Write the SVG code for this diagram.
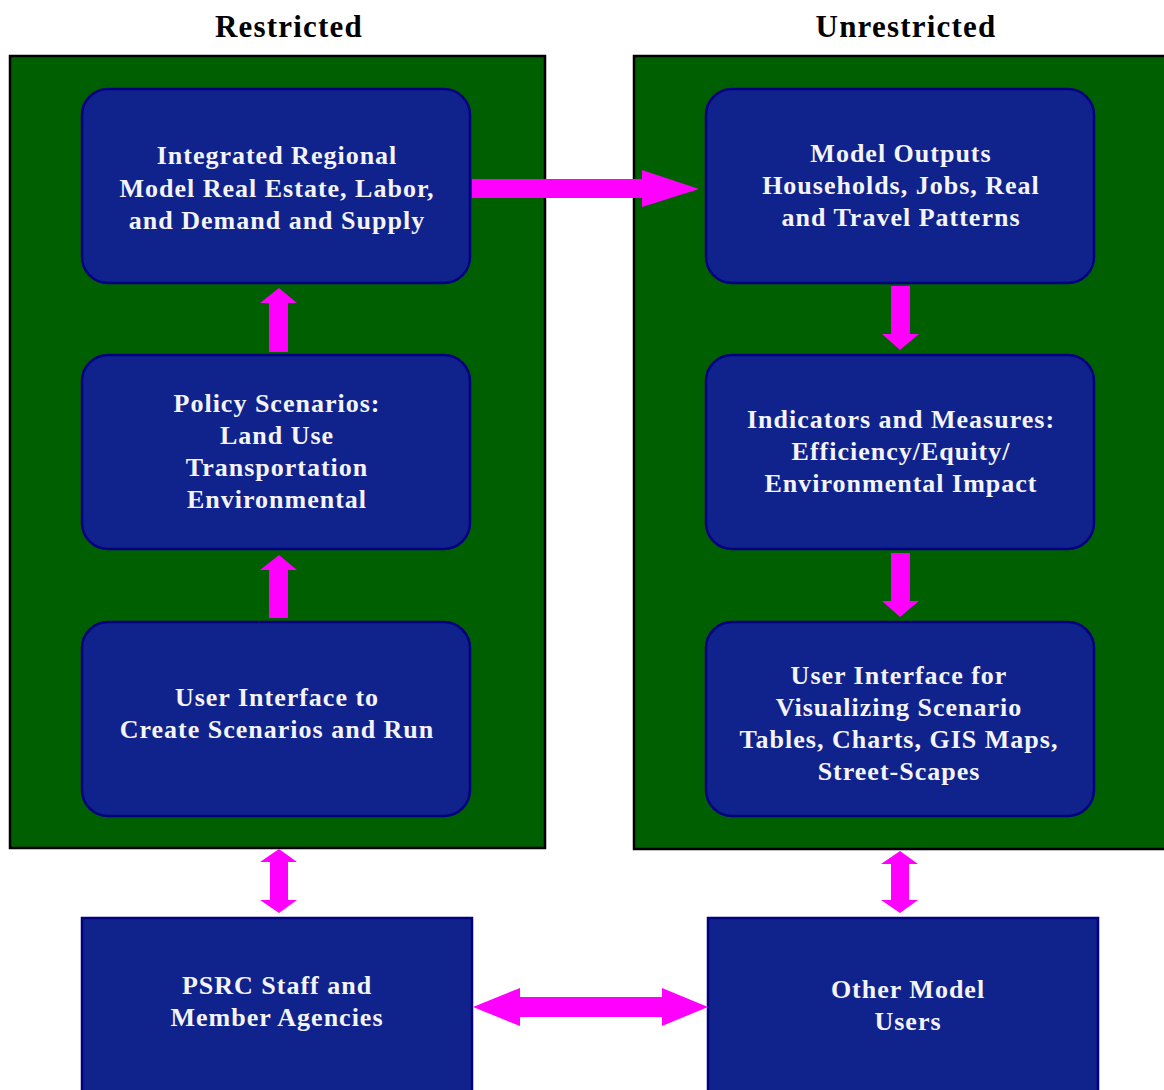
<svg xmlns="http://www.w3.org/2000/svg" width="1164" height="1090" viewBox="0 0 1164 1090">
  <style>
    .panel { fill: #005f00; stroke: #000000; stroke-width: 2.5; }
    .node { fill: #10238c; stroke: #000080; stroke-width: 2.5; }
    .label { font-family: "Liberation Serif", "DejaVu Serif", serif; font-weight: bold; font-size: 26px; letter-spacing: 1px; fill: #f4f4f8; text-anchor: middle; }
    .heading { font-family: "Liberation Serif", "DejaVu Serif", serif; font-weight: bold; font-size: 31px; letter-spacing: 1.2px; fill: #000000; text-anchor: middle; }
    .arrow { fill: #ff00ff; }
  </style>

  <rect width="1164" height="1090" fill="#ffffff"/>

  <!-- column headings -->
  <text class="heading" x="289" y="37">Restricted</text>
  <text class="heading" x="906" y="37">Unrestricted</text>

  <!-- restricted / unrestricted panels -->
  <g id="panel-restricted"><rect class="panel" x="10" y="56" width="535" height="792"/></g>
  <g id="panel-unrestricted"><rect class="panel" x="634" y="56" width="540" height="793"/></g>

  <g id="integrated-model">
    <rect class="node" x="82" y="89" width="388" height="194" rx="26"/>
    <text class="label" x="277" y="164">Integrated Regional</text>
    <text class="label" x="277" y="197">Model Real Estate, Labor,</text>
    <text class="label" x="277" y="229">and Demand and Supply</text>
  </g>

  <g id="policy-scenarios">
    <rect class="node" x="82" y="355" width="388" height="194" rx="26"/>
    <text class="label" x="277" y="412">Policy Scenarios:</text>
    <text class="label" x="277" y="444">Land Use</text>
    <text class="label" x="277" y="476">Transportation</text>
    <text class="label" x="277" y="508">Environmental</text>
  </g>

  <g id="ui-create">
    <rect class="node" x="82" y="622" width="388" height="194" rx="26"/>
    <text class="label" x="277" y="706">User Interface to</text>
    <text class="label" x="277" y="738">Create Scenarios and Run</text>
  </g>

  <g id="model-outputs">
    <rect class="node" x="706" y="89" width="388" height="194" rx="26"/>
    <text class="label" x="901" y="162">Model Outputs</text>
    <text class="label" x="901" y="194">Households, Jobs, Real</text>
    <text class="label" x="901" y="226">and Travel Patterns</text>
  </g>

  <g id="indicators">
    <rect class="node" x="706" y="355" width="388" height="194" rx="26"/>
    <text class="label" x="901" y="428">Indicators and Measures:</text>
    <text class="label" x="901" y="460">Efficiency/Equity/</text>
    <text class="label" x="901" y="492">Environmental Impact</text>
  </g>

  <g id="ui-visualize">
    <rect class="node" x="706" y="622" width="388" height="194" rx="26"/>
    <text class="label" x="899" y="684">User Interface for</text>
    <text class="label" x="899" y="716">Visualizing Scenario</text>
    <text class="label" x="899" y="748">Tables, Charts, GIS Maps,</text>
    <text class="label" x="899" y="780">Street-Scapes</text>
  </g>

  <g id="psrc-staff">
    <rect class="node" x="82" y="918" width="390" height="180"/>
    <text class="label" x="277" y="994">PSRC Staff and</text>
    <text class="label" x="277" y="1026">Member Agencies</text>
  </g>

  <g id="other-users">
    <rect class="node" x="708" y="918" width="390" height="180"/>
    <text class="label" x="908" y="998">Other Model</text>
    <text class="label" x="908" y="1030">Users</text>
  </g>

  <!-- block arrows between nodes -->
  <g id="connectors">
    <!-- integrated model -> model outputs -->
    <polygon class="arrow" points="472,179 642,179 642,170 699,189 642,207 642,198 472,198"/>
    <!-- policy scenarios -> integrated model -->
    <polygon class="arrow" points="269,352 269,303 260,303 279,288 297,303 288,303 288,352"/>
    <!-- ui create -> policy scenarios -->
    <polygon class="arrow" points="269,618 269,570 260,570 279,555 297,570 288,570 288,618"/>
    <!-- model outputs -> indicators -->
    <polygon class="arrow" points="891,286 910,286 910,334 919,334 900,350 882,334 891,334"/>
    <!-- indicators -> ui visualize -->
    <polygon class="arrow" points="891,553 910,553 910,601 919,601 900,617 882,601 891,601"/>
    <!-- restricted panel <-> psrc staff -->
    <polygon class="arrow" points="279,849 297,862 288,862 288,900 297,900 279,913 260,900 270,900 270,862 260,862"/>
    <!-- unrestricted panel <-> other users -->
    <polygon class="arrow" points="900,851 918,864 909,864 909,900 918,900 900,913 881,900 891,900 891,864 881,864"/>
    <!-- psrc staff <-> other users -->
    <polygon class="arrow" points="473,1007 520,988 520,997 662,997 662,988 708,1007 662,1026 662,1017 520,1017 520,1026"/>
  </g>
</svg>
